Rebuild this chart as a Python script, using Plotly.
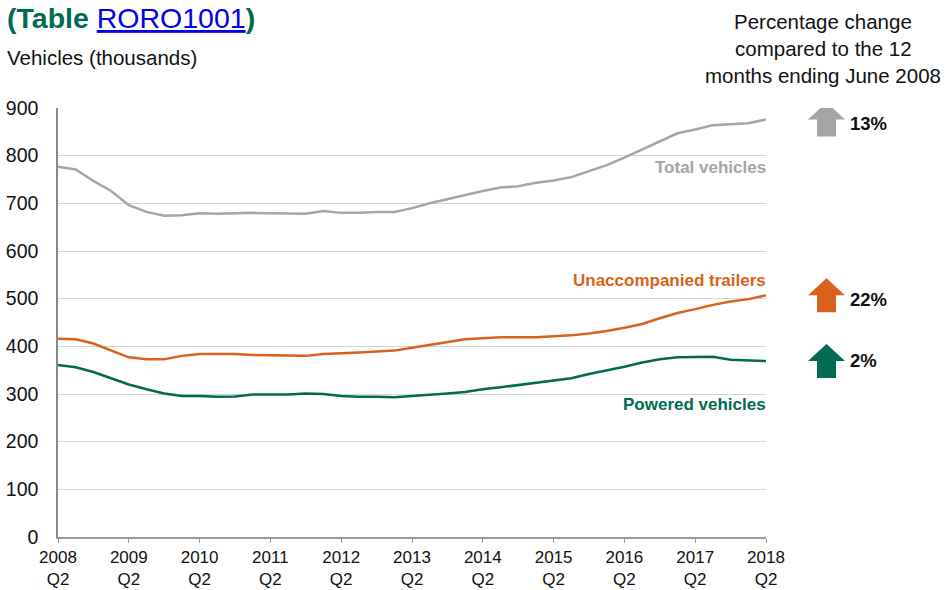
import plotly.graph_objects as go

quarters = [f"{2008 + (i + 1) // 4} Q{(i + 1) % 4 + 1}" for i in range(41)]

total_vehicles = [777, 771, 747, 726, 696, 682, 674, 675, 679, 678, 679, 680, 679,
                  678, 678, 684, 680, 680, 682, 682, 690, 700, 709, 718, 726, 733,
                  736, 743, 748, 755, 768, 780, 796, 813, 831, 847, 855, 864, 866,
                  868, 876]
unaccompanied_trailers = [416, 415, 406, 392, 377, 373, 373, 380, 384, 384, 384, 382,
                          381, 380, 380, 384, 385, 387, 389, 391, 397, 403, 410, 415,
                          417, 419, 419, 419, 421, 423, 427, 432, 439, 447, 459, 470,
                          478, 487, 494, 499, 507]
powered_vehicles = [361, 356, 346, 333, 320, 310, 301, 296, 296, 294, 295, 299, 299,
                    299, 301, 300, 296, 294, 294, 293, 296, 298, 301, 304, 310, 314,
                    319, 324, 328, 333, 342, 349, 357, 366, 373, 377, 378, 378, 372,
                    370, 369]

series_names = ["Total vehicles", "Unaccompanied trailers", "Powered vehicles"]
pct_change = ["13%", "22%", "2%"]
pct_label_y = [868, 499, 370]
line_label_y = [775, 538, 277]

GREY = "#a5a5a5"
ORANGE = "#d8621b"
GREEN = "#006a53"
colors = [GREY, ORANGE, GREEN]
series = [total_vehicles, unaccompanied_trailers, powered_vehicles]

tick_vals = [q for q in quarters if q.endswith("Q2")]
tick_text = [q.replace(" ", "<br>") for q in tick_vals]

FONT = "Liberation Sans, Arial, sans-serif"

fig = go.Figure()
for name, vals, col in zip(series_names, series, colors):
    fig.add_trace(go.Scatter(x=quarters, y=vals, mode="lines", name=name,
                             line=dict(color=col, width=2.5), showlegend=False,
                             hoverinfo="skip"))

# plot area in pixels: x 58..766, y 108..537
L, T, W, H = 58, 108, 708, 429


def px_x(p):
    return (p - L) / W


def px_y(p):
    return (T + H - p) / H


annotations = []
for name, yv, col in zip(series_names, line_label_y, colors):
    annotations.append(dict(x=40, y=yv, xref="x", yref="y", text=f"<b>{name}</b>",
                            showarrow=False, xanchor="right", yanchor="middle", xshift=2,
                            font=dict(family=FONT, size=17, color=col)))
for txt, yv in zip(pct_change, pct_label_y):
    annotations.append(dict(x=px_x(848), y=yv, xref="paper", yref="y", text=f"<b>{txt}</b>",
                            showarrow=False, xanchor="left", yanchor="middle",
                            font=dict(family=FONT, size=18.5, color="#111111")))
annotations.append(dict(x=px_x(5), y=px_y(18), xref="paper", yref="paper",
                        text="<b>(Table </b><span style='color:#0000ee'><u>RORO1001</u></span><b>)</b>",
                        showarrow=False, xanchor="left", yanchor="middle",
                        font=dict(family=FONT, size=28.5, color=GREEN)))
annotations.append(dict(x=px_x(5), y=px_y(58), xref="paper", yref="paper",
                        text="Vehicles (thousands)", showarrow=False,
                        xanchor="left", yanchor="middle",
                        font=dict(family=FONT, size=20.5, color="#111111")))
for line, yy in zip(["Percentage change", "compared to the 12", "months ending June 2008"],
                    [21, 48, 75]):
    annotations.append(dict(x=px_x(823), y=px_y(yy), xref="paper", yref="paper",
                            text=line, showarrow=False, xanchor="center", yanchor="middle",
                            font=dict(family=FONT, size=20.5, color="#111111")))

arrow_path = "M 0 17 L 18.5 0 L 9.5 0 L 9.5 -17 L -9.5 -17 L -9.5 0 L -18.5 0 Z"
shapes = []
for vals, col in zip(series, colors):
    shapes.append(dict(type="path", xref="paper", yref="y",
                       xsizemode="pixel", ysizemode="pixel",
                       xanchor=px_x(826.5), yanchor=vals[-1],
                       path=arrow_path, fillcolor=col, line=dict(width=0)))

fig.update_layout(
    width=946, height=590,
    margin=dict(l=L, r=946 - L - W, t=T, b=590 - T - H, autoexpand=False),
    paper_bgcolor="white", plot_bgcolor="white",
    font=dict(family=FONT, size=19, color="#111111"),
    annotations=annotations, shapes=shapes,
    xaxis=dict(type="category", categoryorder="array", categoryarray=quarters,
               range=[0, 40], tickmode="array", tickvals=tick_vals, ticktext=tick_text,
               ticks="outside", ticklen=4, tickcolor="#999999", tickwidth=1,
               showline=True, linecolor="#999999", linewidth=1.5,
               showgrid=False, zeroline=False, automargin=False,
               ticklabelstandoff=0,
               tickfont=dict(family=FONT, size=17, color="#111111")),
    yaxis=dict(range=[0, 900], tick0=0, dtick=100, showgrid=True,
               gridcolor="#d4d4d4", gridwidth=1, showline=True,
               linecolor="#888888", linewidth=1.5, zeroline=False, automargin=False,
               ticks="", ticklabelstandoff=14,
               tickfont=dict(family=FONT, size=19.5, color="#111111")),
)

fig.write_html("out.html", config={"displayModeBar": False},
               post_script="document.body.style.margin='0px';document.body.style.overflow='hidden';")
